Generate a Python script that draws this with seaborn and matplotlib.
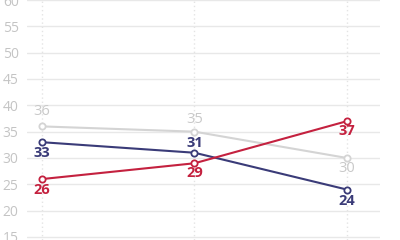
import matplotlib
matplotlib.use("Agg")
import matplotlib.pyplot as plt
import seaborn as sns
import pandas as pd

periods = [0, 1, 2]
gray_vals = [36, 35, 30]
navy_vals = [33, 31, 24]
red_vals = [26, 29, 37]
series_names = ["gray", "navy", "red"]
colors = {"gray": "#d4d4d4", "navy": "#3a3b78", "red": "#c4213f"}
label_colors = {"gray": "#c9c9c9", "navy": "#3a3b78", "red": "#c4213f"}
# label offset (pixels) per point: positive = above
label_off = {"gray": [15, 12, -11], "navy": [-11, 10, -11], "red": [-11, -10, -10]}
yticks = [15, 20, 25, 30, 35, 40, 45, 50, 55, 60]

rows = []
for name, vals in zip(series_names, [gray_vals, navy_vals, red_vals]):
    for p, v in zip(periods, vals):
        rows.append({"x": p, "v": v, "s": name})
df = pd.DataFrame(rows)

sns.set_style("white")
fig = plt.figure(figsize=(4, 2.4), dpi=100)
ax = fig.add_axes([27 / 400, 0, (380 - 27) / 400, 1])

sns.lineplot(data=df, x="x", y="v", hue="s", hue_order=series_names,
             palette=colors, marker="o", markersize=4.5, markerfacecolor="white",
             markeredgewidth=1.3, linewidth=1.5, legend=False, ax=ax,
             estimator=None, sort=False)
for line, name in zip(ax.lines, series_names):
    line.set_markeredgecolor(colors[name])

for name in series_names:
    sub = df[df.s == name]
    for (x, v), off in zip(zip(sub.x, sub.v), label_off[name]):
        ax.annotate(str(v), (x, v), xytext=(0, off), textcoords="offset pixels",
                    ha="center", va="center", fontsize=10.5,
                    fontweight="normal" if name == "gray" else "bold",
                    color=label_colors[name], family="Open Sans")

ax.set_ylim(14.43, 59.9)
ax.set_xlim(-0.098, 2.216)
ax.set_yticks(yticks)
ax.set_yticklabels([str(t) for t in yticks])
ax.set_xticks(periods)
ax.set_xticklabels([])
ax.grid(axis="y", color="#e8e8e8", linewidth=1, linestyle="-")
ax.grid(axis="x", color="#e4e4e4", linewidth=1, linestyle=(0, (1, 2)))
ax.set_axisbelow(True)
for sp in ax.spines.values():
    sp.set_visible(False)
ax.tick_params(axis="y", length=0, pad=6, labelsize=10, labelcolor="#c4c4c4")
ax.tick_params(axis="x", length=0)
for t in ax.get_yticklabels():
    t.set_family("Open Sans")
ax.set_xlabel("")
ax.set_ylabel("")
fig.savefig("out.png", dpi=100)
